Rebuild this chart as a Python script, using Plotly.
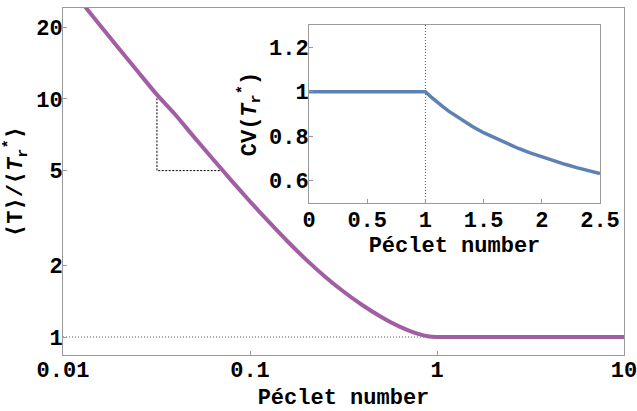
import plotly.graph_objects as go

# Mean transit time ratio vs Péclet number (log-log main panel)
pe_main = [0.01, 0.01585, 0.02512, 0.03162, 0.03981, 0.0501, 0.0631, 0.0794,
           0.1, 0.1259, 0.1585, 0.1995, 0.2512, 0.3162, 0.3981, 0.5012,
           0.5623, 0.631, 0.708, 0.794, 0.891, 1.0, 2.0, 5.0, 10.0]
ratio_main = [31.8, 20.3, 13.03, 10.47, 8.60, 6.93, 5.61, 4.55,
              3.71, 3.05, 2.525, 2.114, 1.797, 1.553, 1.363, 1.216,
              1.156, 1.106, 1.064, 1.030, 1.007, 1.0, 1.0, 1.0, 1.0]

# Coefficient of variation vs Péclet number (inset)
pe_inset = [0.0, 0.5, 1.0, 1.05, 1.1, 1.15, 1.2, 1.3, 1.4, 1.5, 1.6, 1.7,
            1.8, 1.9, 2.0, 2.1, 2.2, 2.3, 2.4, 2.5]
cv_inset = [1.0, 1.0, 1.0, 0.976, 0.953, 0.933, 0.913, 0.877, 0.845, 0.816,
            0.791, 0.767, 0.745, 0.725, 0.707, 0.690, 0.674, 0.659, 0.645, 0.632]

# Slope guide triangle and reference levels
tri_pe = [0.0318, 0.0318, 0.0715]
tri_val = [10.4, 5.0, 5.0]
unity_pe = [0.01, 1.0]
unity_val = [1.0, 1.0]
split_pe = [1.0, 1.0]
split_cv = [0.5, 1.3]

main_x_ticks = [0.01, 0.1, 1, 10]
main_x_text = ["0.01", "0.1", "1", "10"]
main_y_ticks = [1, 2, 5, 10, 20]
main_y_text = ["1", "2", "5", "10", "20"]
inset_x_ticks = [0, 0.5, 1, 1.5, 2, 2.5]
inset_x_text = ["0", "0.5", "1", "1.5", "2", "2.5"]
inset_y_ticks = [0.6, 0.8, 1.0, 1.2]
inset_y_text = ["0.6", "0.8", "1", "1.2"]

FONT = "Courier New, Liberation Mono, monospace"
FRAME = "#9a9a9a"
PURPLE = "#a25ea2"
BLUE = "#5e81b5"

fig = go.Figure()

fig.add_trace(go.Scatter(x=unity_pe, y=unity_val, mode="lines",
                         line=dict(color="#555555", width=1, dash="1px,2px"),
                         xaxis="x", yaxis="y", hoverinfo="skip"))
fig.add_trace(go.Scatter(x=tri_pe, y=tri_val, mode="lines",
                         line=dict(color="black", width=1, dash="2px,1.5px"),
                         xaxis="x", yaxis="y", hoverinfo="skip"))
fig.add_trace(go.Scatter(x=pe_main, y=ratio_main, mode="lines",
                         line=dict(color=PURPLE, width=4, shape="spline",
                                   smoothing=0.6),
                         xaxis="x", yaxis="y"))

fig.add_trace(go.Scatter(x=split_pe, y=split_cv, mode="lines",
                         line=dict(color="#555555", width=1, dash="1px,2px"),
                         xaxis="x2", yaxis="y2", hoverinfo="skip"))
fig.add_trace(go.Scatter(x=pe_inset, y=cv_inset, mode="lines",
                         line=dict(color=BLUE, width=3.5),
                         xaxis="x2", yaxis="y2"))

TICKFONT = dict(family=FONT, size=22, color="black", weight="bold")
axis_common = dict(showline=True, mirror=True, linecolor=FRAME, linewidth=1,
                   ticks="inside", ticklen=4, tickcolor=FRAME,
                   showgrid=False, zeroline=False, tickfont=TICKFONT,
                   automargin=False, ticklabeloverflow="allow")

fig.update_layout(
    width=637, height=411,
    margin=dict(l=63, r=13, t=8, b=56, autoexpand=False),
    paper_bgcolor="white", plot_bgcolor="white",
    showlegend=False,
    font=dict(family=FONT, size=22, color="black"),
    xaxis=dict(type="log", range=[-2, 1], domain=[0, 1],
               tickvals=main_x_ticks, ticktext=main_x_text,
               ticklabelstandoff=-5,
               title=dict(text="Péclet number", standoff=8, font=TICKFONT),
               anchor="y", **axis_common),
    yaxis=dict(type="log", range=[-0.0756, 1.382], domain=[0, 1],
               tickvals=main_y_ticks, ticktext=main_y_text,
               ticklabelstandoff=-5,
               title=dict(text="⟨T⟩/⟨<i>T</i><sub>r</sub><sup>*</sup>⟩", standoff=8,
                          font=TICKFONT),
               anchor="x", **axis_common),
    xaxis2=dict(range=[0, 2.5], domain=[0.4385, 0.9572],
                tickvals=inset_x_ticks, ticktext=inset_x_text,
                ticklabelstandoff=-3,
                title=dict(text="Péclet number", standoff=1, font=TICKFONT),
                anchor="y2", **axis_common),
    yaxis2=dict(range=[0.5, 1.3], domain=[0.438, 0.951],
                tickvals=inset_y_ticks, ticktext=inset_y_text,
                ticklabelstandoff=-5,
                title=dict(text="CV(<i>T</i><sub>r</sub><sup>*</sup>)", standoff=6,
                           font=TICKFONT),
                anchor="x2", **axis_common),
)

fig.write_html("out.html")
